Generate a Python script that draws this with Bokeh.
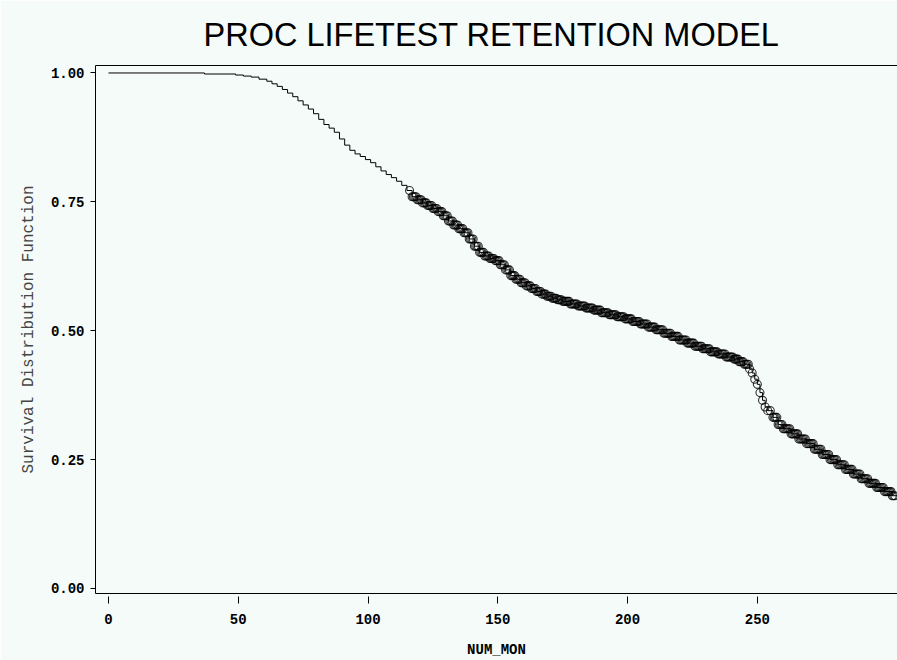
import numpy as np
from bokeh.plotting import figure
from bokeh.models import FixedTicker, NumeralTickFormatter, LinearAxis, Range1d
from bokeh.embed import file_html
from bokeh.resources import INLINE

# Kaplan-Meier step curve (NUM_MON, survival)
km_t = [0, 37, 49, 52, 55, 58, 61, 63, 65, 67, 69, 71, 73, 75, 77, 79, 81, 83, 85, 87,
        89, 91, 93, 95, 97, 99, 101, 103, 105, 107, 109, 111, 113, 115, 117, 119, 121,
        123, 125, 127, 129, 131, 133, 135, 137, 139, 141, 143, 145, 147, 149, 151, 153,
        155, 157, 159, 161, 163, 165, 167, 169, 171, 173, 175, 178, 181, 184, 187, 190,
        193, 196, 199, 202, 205, 208, 211, 214, 217, 220, 223, 226, 229, 232, 235, 238,
        241, 243, 245, 247, 248, 249, 250, 251, 252, 253, 254, 256, 258, 260, 263, 266,
        269, 272, 275, 278, 281, 284, 287, 290, 293, 296, 299, 302, 304]
km_s = [1.000, 0.998, 0.996, 0.994, 0.992, 0.988, 0.984, 0.979, 0.974, 0.968, 0.961,
        0.954, 0.946, 0.938, 0.930, 0.921, 0.910, 0.900, 0.893, 0.885, 0.872, 0.860,
        0.850, 0.843, 0.838, 0.832, 0.826, 0.818, 0.810, 0.803, 0.797, 0.790, 0.782,
        0.772, 0.760, 0.754, 0.748, 0.743, 0.737, 0.731, 0.723, 0.713, 0.705, 0.698,
        0.690, 0.678, 0.664, 0.652, 0.645, 0.640, 0.636, 0.628, 0.618, 0.607, 0.600,
        0.593, 0.587, 0.582, 0.576, 0.571, 0.567, 0.563, 0.560, 0.557, 0.552, 0.548,
        0.544, 0.540, 0.535, 0.531, 0.527, 0.523, 0.518, 0.513, 0.507, 0.502, 0.495,
        0.489, 0.482, 0.476, 0.470, 0.465, 0.459, 0.455, 0.449, 0.445, 0.440, 0.435,
        0.426, 0.418, 0.406, 0.396, 0.380, 0.365, 0.352, 0.345, 0.332, 0.318, 0.310,
        0.300, 0.290, 0.281, 0.270, 0.260, 0.250, 0.240, 0.231, 0.222, 0.213, 0.204,
        0.196, 0.188, 0.180, 0.174]

# Censored observations (NUM_MON)
censor_t = [116, 117, 118, 119, 120, 121, 122, 123, 124, 125, 126, 127, 128, 129, 130,
            131, 132, 133, 134, 135, 136, 137, 138, 139, 140, 141, 142, 143, 144, 145,
            146, 147, 148, 149, 150, 151, 152, 153, 154, 155, 156, 157, 158, 159, 160,
            161, 162, 163, 164, 165, 166, 167, 168, 169, 170, 171, 172, 173, 174, 175,
            176, 177, 178, 179, 180, 181, 182, 183, 184, 185, 186, 187, 188, 189, 190,
            191, 192, 193, 194, 195, 196, 197, 198, 199, 200, 201, 202, 203, 204, 205,
            206, 207, 208, 209, 210, 211, 212, 213, 214, 215, 216, 217, 218, 219, 220,
            221, 222, 223, 224, 225, 226, 227, 228, 229, 230, 231, 232, 233, 234, 235,
            236, 237, 238, 239, 240, 241, 242, 243, 244, 245, 246, 247, 248, 249, 250,
            251, 252, 253, 254, 255, 256, 257, 258, 259, 260, 261, 262, 263, 264, 265,
            266, 267, 268, 269, 270, 271, 272, 273, 274, 275, 276, 277, 278, 279, 280,
            281, 282, 283, 284, 285, 286, 287, 288, 289, 290, 291, 292, 293, 294, 295,
            296, 297, 298, 299, 300, 301, 302, 303,
            117.5, 118.5, 119.5, 120.5, 121.5, 122.5, 123.5, 124.5, 125.5, 126.5, 127.5,
            128.5, 129.5, 130.5, 131.5, 132.5, 133.5, 134.5, 135.5, 136.5, 137.5, 138.5,
            139.5, 140.5, 141.5, 142.5, 143.5, 144.5, 145.5, 146.5, 147.5, 148.5, 149.5,
            150.5, 151.5, 152.5, 153.5, 154.5, 155.5, 156.5, 157.5, 158.5, 159.5, 160.5,
            161.5, 162.5, 163.5, 164.5, 165.5, 166.5, 167.5, 168.5, 169.5, 170.5, 171.5,
            172.5, 173.5, 174.5, 175.5, 176.5, 177.5, 178.5, 179.5, 180.5, 181.5, 182.5,
            183.5, 184.5, 185.5, 186.5, 187.5, 188.5, 189.5, 190.5, 191.5, 192.5, 193.5,
            194.5, 195.5, 196.5, 197.5, 198.5, 199.5, 200.5, 201.5, 202.5, 203.5, 204.5,
            205.5, 206.5, 207.5, 208.5, 209.5, 210.5, 211.5, 212.5, 213.5, 214.5, 215.5,
            216.5, 217.5, 218.5, 219.5, 220.5, 221.5, 222.5, 223.5, 224.5, 225.5, 226.5,
            227.5, 228.5, 229.5, 230.5, 231.5, 232.5, 233.5, 234.5, 235.5, 236.5, 237.5,
            238.5, 239.5, 240.5, 241.5, 242.5, 243.5, 244.5, 245.5, 246.5,
            256.5, 257.5, 258.5, 259.5, 260.5, 261.5, 262.5, 263.5, 264.5, 265.5, 266.5,
            267.5, 268.5, 269.5, 270.5, 271.5, 272.5, 273.5, 274.5, 275.5, 276.5, 277.5,
            278.5, 279.5, 280.5, 281.5, 282.5, 283.5, 284.5, 285.5, 286.5, 287.5, 288.5,
            289.5, 290.5, 291.5, 292.5, 293.5, 294.5, 295.5, 296.5, 297.5, 298.5, 299.5,
            300.5, 301.5, 302.5]

x_ticks = [0, 50, 100, 150, 200, 250]
y_ticks = [0.00, 0.25, 0.50, 0.75, 1.00]

kt = np.array(km_t, dtype=float)
ks = np.array(km_s, dtype=float)
ct = np.array(censor_t, dtype=float)
idx = np.searchsorted(kt, ct, side="right") - 1
cs = ks[idx]

BG = "#f5fbf8"

p = figure(width=897, height=660, output_backend="svg", toolbar_location=None,
           x_range=Range1d(-5, 304), y_range=Range1d(-0.0097, 1.0145),
           min_border_left=95, min_border_top=65, min_border_bottom=65,
           min_border_right=0,
           title="PROC LIFETEST RETENTION MODEL")

p.background_fill_color = BG
p.border_fill_color = BG
p.outline_line_color = None
p.xgrid.visible = False
p.ygrid.visible = False

p.title.text_font = "Liberation Sans"
p.title.text_font_size = "32.5px"
p.title.text_font_style = "normal"
p.title.text_color = "black"
p.title.align = "left"
p.title.offset = 108
p.title.standoff = 26
p.title.text_line_height = 0.8

mono = "Liberation Mono"

xa = p.xaxis[0]
xa.ticker = FixedTicker(ticks=x_ticks)
xa.minor_tick_line_color = None
xa.major_tick_in = -3
xa.major_tick_out = 10
xa.major_tick_line_color = "black"
xa.axis_line_color = "black"
xa.major_label_text_font = mono
xa.major_label_text_font_style = "bold"
xa.major_label_text_font_size = "14px"
xa.major_label_text_color = "black"
xa.major_label_standoff = 10
xa.axis_label = "NUM_MON"
xa.axis_label_text_font = mono
xa.axis_label_text_font_style = "bold"
xa.axis_label_text_font_size = "14px"
xa.axis_label_text_color = "black"
xa.axis_label_standoff = 15

ya = p.yaxis[0]
ya.ticker = FixedTicker(ticks=y_ticks)
ya.formatter = NumeralTickFormatter(format="0.00")
ya.minor_tick_line_color = None
ya.major_tick_in = 0
ya.major_tick_out = 5
ya.major_tick_line_color = "black"
ya.axis_line_color = "black"
ya.major_label_text_font = mono
ya.major_label_text_font_style = "bold"
ya.major_label_text_font_size = "14px"
ya.major_label_text_color = "black"
ya.major_label_standoff = 6
ya.axis_label = "Survival Distribution Function"
ya.axis_label_text_font = mono
ya.axis_label_text_font_style = "normal"
ya.axis_label_text_font_size = "16px"
ya.axis_label_text_color = "#444444"
ya.axis_label_standoff = 10

top = LinearAxis(ticker=FixedTicker(ticks=[]), axis_line_color="black",
                 major_tick_line_color=None, minor_tick_line_color=None,
                 major_label_text_font_size="0px", major_label_standoff=0,
                 major_tick_in=0, major_tick_out=0)
p.add_layout(top, "above")

p.step(kt, ks, mode="after", line_color="black", line_width=1)
p.scatter(ct, cs, marker="circle", size=8, fill_color=None,
          line_color="black", line_width=1.1, line_alpha=0.8)

open("out.html", "w").write(file_html(p, INLINE))
